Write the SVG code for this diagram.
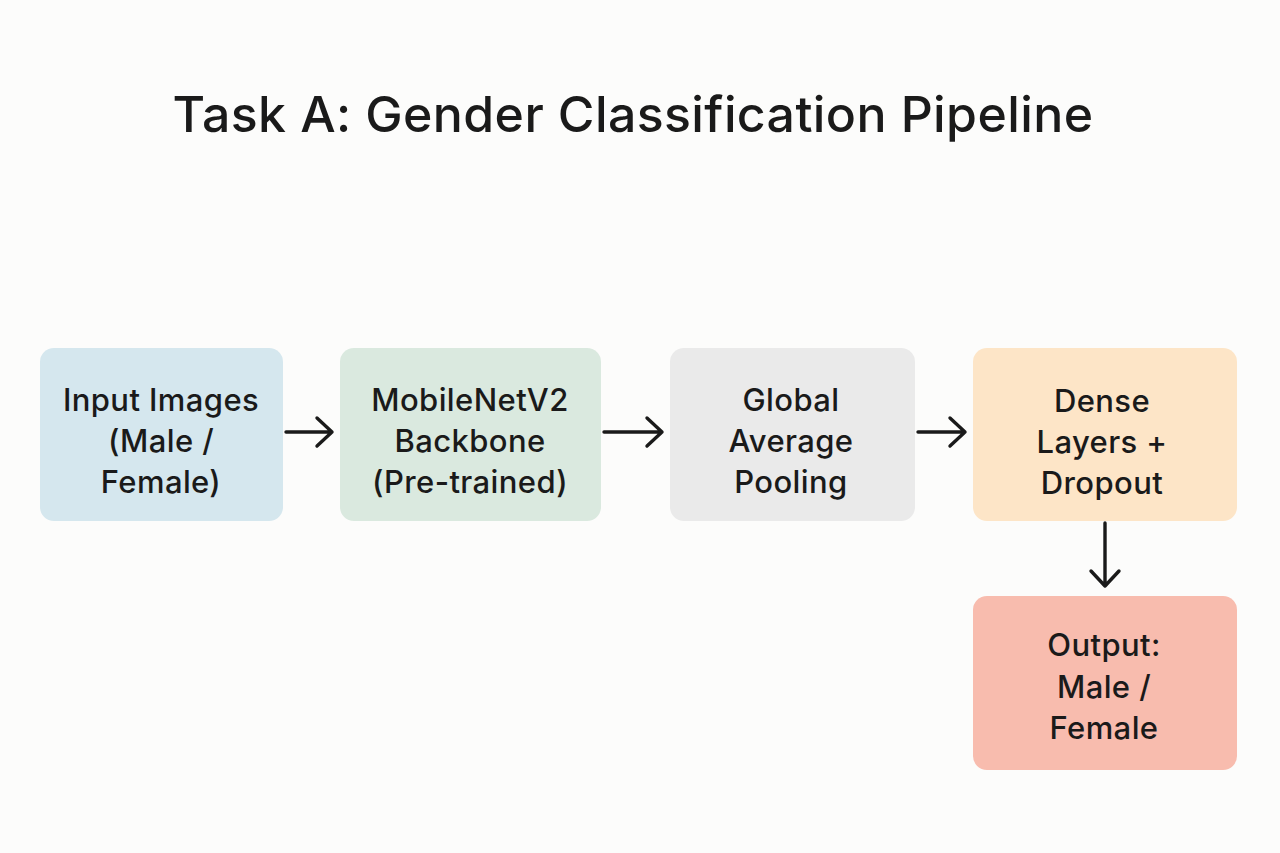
<svg xmlns="http://www.w3.org/2000/svg" width="1280" height="853" viewBox="0 0 1280 853">
<defs>
<style>
.t{font-family:Inter,"Liberation Sans",sans-serif;fill:#1a1a1a;text-anchor:middle}
.title{font-size:50px;font-weight:500;letter-spacing:0.4px}
.lbl{font-size:31px;font-weight:500;letter-spacing:0.4px}
.c{stroke:#1a1a1a;stroke-width:3.4;fill:none;stroke-linecap:round;stroke-linejoin:round}
</style>
</defs>
<rect width="1280" height="853" fill="#fcfcfb"/>
<text class="t title" x="633" y="132">Task A: Gender Classification Pipeline</text>
<g id="input">
<rect x="40" y="348" width="243" height="173" rx="14" fill="#d5e7ee"/>
<text class="t lbl" x="161" y="411">Input Images</text>
<text class="t lbl" x="161" y="452">(Male /</text>
<text class="t lbl" x="161" y="493">Female)</text>
</g>
<g id="backbone">
<rect x="340" y="348" width="261" height="173" rx="14" fill="#dae9df"/>
<text class="t lbl" x="470" y="411">MobileNetV2</text>
<text class="t lbl" x="470" y="452">Backbone</text>
<text class="t lbl" x="470" y="493">(Pre-trained)</text>
</g>
<g id="gap">
<rect x="670" y="348" width="245" height="173" rx="14" fill="#eaeaea"/>
<text class="t lbl" x="791" y="411">Global</text>
<text class="t lbl" x="791" y="452">Average</text>
<text class="t lbl" x="791" y="493">Pooling</text>
</g>
<g id="dense">
<rect x="973" y="348" width="264" height="173" rx="14" fill="#fde5c7"/>
<text class="t lbl" x="1102" y="412">Dense</text>
<text class="t lbl" x="1102" y="453">Layers +</text>
<text class="t lbl" x="1102" y="494">Dropout</text>
</g>
<g id="output">
<rect x="973" y="596" width="264" height="174" rx="14" fill="#f8bcae"/>
<text class="t lbl" x="1104" y="656">Output:</text>
<text class="t lbl" x="1104" y="698">Male /</text>
<text class="t lbl" x="1104" y="739">Female</text>
</g>
<g id="connectors">
<path class="c" d="M286 432H332M317 418L332 432L317 446"/>
<path class="c" d="M604 432H662M647 418L662 432L647 446"/>
<path class="c" d="M918 432H965M950 418L965 432L950 446"/>
<path class="c" d="M1105 523V586M1091 571L1105 586L1119 571"/>
</g>
</svg>
